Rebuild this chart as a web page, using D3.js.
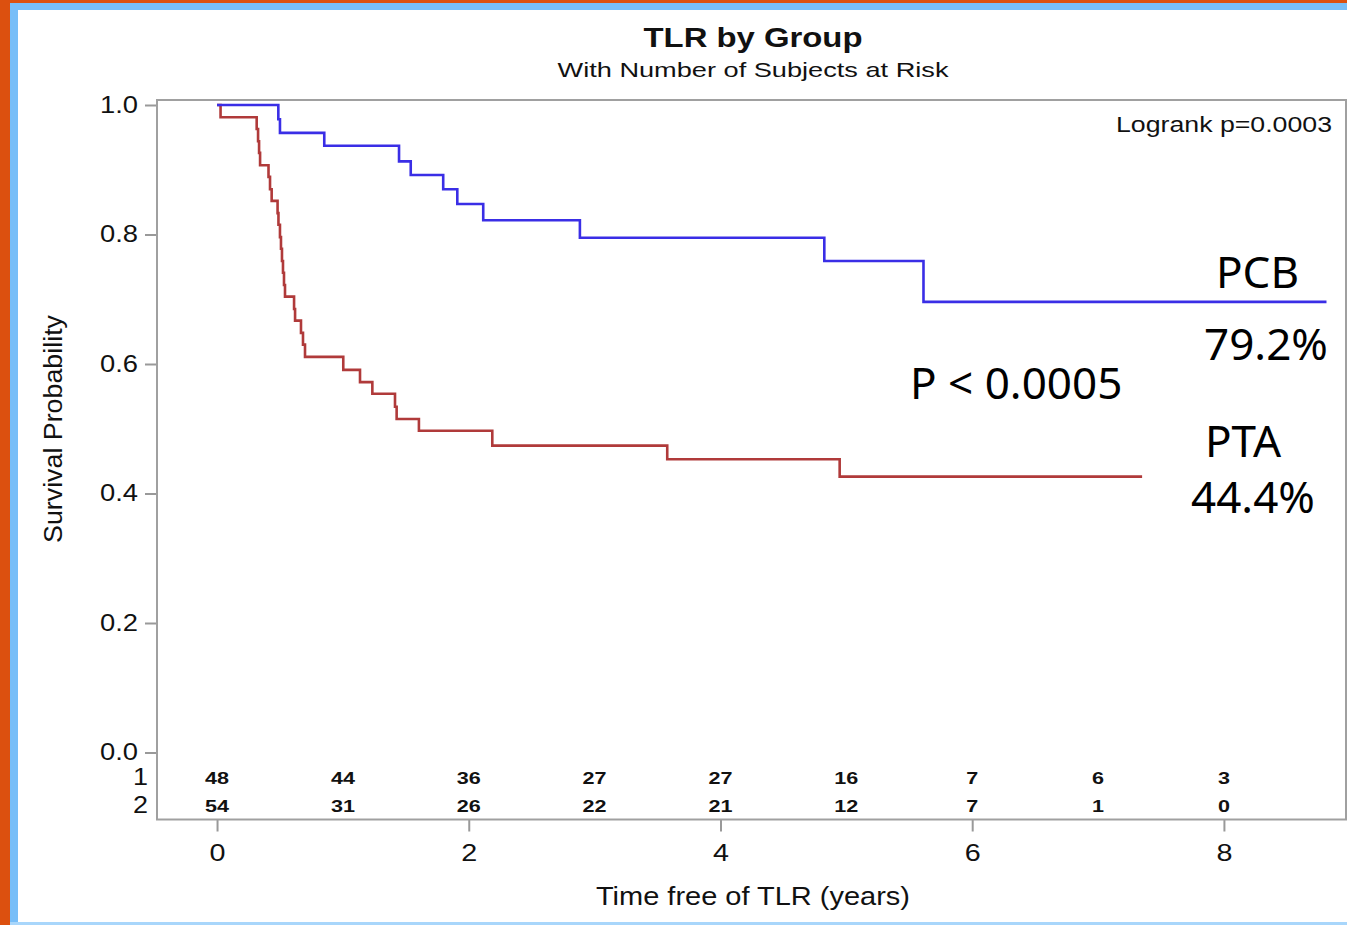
<!DOCTYPE html>
<html>
<head>
<meta charset="utf-8">
<script src="https://cdn.jsdelivr.net/npm/d3@7"></script>
<style>
  body { margin: 0; background: #fff; }
  svg { display: block; }
  .sas { font-family: "Liberation Sans", Arial, sans-serif; fill: #111; }
  .note { font-family: "Noto Sans", sans-serif; fill: #000; }
</style>
</head>
<body>
<svg id="chart" width="1347" height="925"></svg>
<script>
// Kaplan-Meier steps: [time (years), survival]
const pcbTimes = [0, 0.487, 0.50, 0.852, 1.446, 1.539, 1.797, 1.909, 2.115, 2.883, 4.825, 5.613, 8.815];
const pcbSurv  = [1.0, 0.978, 0.957, 0.937, 0.913, 0.892, 0.870, 0.847, 0.822, 0.795, 0.759, 0.696, 0.696];

const ptaTimes = [0, 0.028, 0.315, 0.326, 0.334, 0.342, 0.409, 0.421, 0.434, 0.481, 0.488, 0.50, 0.508,
  0.516, 0.524, 0.532, 0.540, 0.612, 0.620, 0.667, 0.683, 0.699, 1.003, 1.136, 1.234, 1.414, 1.427,
  1.604, 2.187, 3.577, 4.947, 7.35];
const ptaSurv  = [1.0, 0.981, 0.963, 0.944, 0.926, 0.907, 0.889, 0.870, 0.852, 0.833, 0.815, 0.796, 0.778,
  0.759, 0.741, 0.722, 0.704, 0.685, 0.667, 0.648, 0.630, 0.611, 0.591, 0.572, 0.554, 0.534, 0.515,
  0.497, 0.474, 0.453, 0.426, 0.426];

// number at risk
const riskTimes = [0, 1, 2, 3, 4, 5, 6, 7, 8];
const riskGroup1 = [48, 44, 36, 27, 27, 16, 7, 6, 3];
const riskGroup2 = [54, 31, 26, 22, 21, 12, 7, 1, 0];

const xTicks = [0, 2, 4, 6, 8];
const yTicks = [0, 0.2, 0.4, 0.6, 0.8, 1.0];

const svg = d3.select('#chart');

// the slide picture is stretched sideways, so the SAS texts are widened to match
function stretch(sel, len) {
  sel.attr('textLength', len).attr('lengthAdjust', 'spacingAndGlyphs');
}

// slide frame
svg.append('rect').attr('x', 0).attr('y', 0).attr('width', 1347).attr('height', 3).attr('fill', '#dc500f');
svg.append('rect').attr('x', 10).attr('y', 3).attr('width', 1337).attr('height', 7).attr('fill', '#78bef8');
svg.append('rect').attr('x', 10).attr('y', 3).attr('width', 8).attr('height', 922).attr('fill', '#78bef8');
svg.append('rect').attr('x', 0).attr('y', 0).attr('width', 10).attr('height', 925).attr('fill', '#dc500f');
svg.append('rect').attr('x', 10).attr('y', 922).attr('width', 1337).attr('height', 3).attr('fill', '#a8d6fb');

const box = { left: 157, right: 1346, top: 100, bottom: 819.5 };

const x = d3.scaleLinear().domain([-0.477, 8.97]).range([box.left, box.right]);
const y = d3.scaleLinear().domain([0, 1]).range([752.5, 105]);

// titles
svg.append('text').attr('class', 'sas')
  .attr('x', 753).attr('y', 47).attr('text-anchor', 'middle')
  .style('font-size', '27px').style('font-weight', 'bold')
  .text('TLR by Group')
  .call(stretch, 219);
svg.append('text').attr('class', 'sas')
  .attr('x', 753).attr('y', 77).attr('text-anchor', 'middle')
  .style('font-size', '21px')
  .text('With Number of Subjects at Risk')
  .call(stretch, 391);

// axes
const yAxis = svg.append('g')
  .attr('transform', `translate(${box.left},0)`)
  .call(d3.axisLeft(y).tickValues(yTicks).tickFormat(d3.format('.1f')).tickSize(12).tickPadding(7));
const xAxis = svg.append('g')
  .attr('transform', `translate(0,${box.bottom})`)
  .call(d3.axisBottom(x).tickValues(xTicks).tickSize(12).tickPadding(12));

[yAxis, xAxis].forEach((g) => {
  g.select('.domain').remove();
  g.selectAll('.tick line').attr('stroke', '#999').attr('stroke-width', 2);
  g.selectAll('.tick text').attr('class', 'sas').attr('fill', '#111')
    .style('font-family', '"Liberation Sans", Arial, sans-serif');
});
yAxis.selectAll('.tick text').style('font-size', '23px').call(stretch, 38);
xAxis.selectAll('.tick text').style('font-size', '24px').call(stretch, 16);

// plot frame
svg.append('rect')
  .attr('x', box.left).attr('y', box.top)
  .attr('width', box.right - box.left).attr('height', box.bottom - box.top)
  .attr('fill', 'none').attr('stroke', '#a0a0a0').attr('stroke-width', 2);

// axis labels
svg.append('text').attr('class', 'sas')
  .attr('transform', 'translate(62,429) rotate(-90)')
  .attr('text-anchor', 'middle')
  .style('font-size', '26px')
  .text('Survival Probability')
  .call(stretch, 228);
svg.append('text').attr('class', 'sas')
  .attr('x', 753).attr('y', 905).attr('text-anchor', 'middle')
  .style('font-size', '25px')
  .text('Time free of TLR (years)')
  .call(stretch, 314);

// curves
const line = d3.line()
  .curve(d3.curveStepAfter)
  .x((d) => x(d[0]))
  .y((d) => y(d[1]));

svg.append('path')
  .datum(d3.zip(ptaTimes, ptaSurv))
  .attr('d', line)
  .attr('fill', 'none')
  .attr('stroke', '#b03a3a')
  .attr('stroke-width', 2.6);

svg.append('path')
  .datum(d3.zip(pcbTimes, pcbSurv))
  .attr('d', line)
  .attr('fill', 'none')
  .attr('stroke', '#3a2ee6')
  .attr('stroke-width', 2.6);

// number at risk table
[[riskGroup1, 784, '1'], [riskGroup2, 812, '2']].forEach(([vals, yy, lab]) => {
  svg.append('text').attr('class', 'sas')
    .attr('x', 148).attr('y', yy + 1).attr('text-anchor', 'end')
    .style('font-size', '24px')
    .text(lab)
    .call(stretch, 15);
  svg.selectAll(null)
    .data(vals)
    .enter()
    .append('text')
    .attr('class', 'sas')
    .attr('x', (d, i) => x(riskTimes[i]))
    .attr('y', yy)
    .attr('text-anchor', 'middle')
    .style('font-size', '17px')
    .style('font-weight', 'bold')
    .text((d) => d)
    .attr('textLength', (d) => String(d).length * 12)
    .attr('lengthAdjust', 'spacingAndGlyphs');
});

// logrank
svg.append('text').attr('class', 'sas')
  .attr('x', 1332).attr('y', 132).attr('text-anchor', 'end')
  .style('font-size', '22px')
  .text('Logrank p=0.0003')
  .call(stretch, 216);

// slide annotations
const notes = [
  ['PCB', 1216, 288],
  ['79.2%', 1204, 360],
  ['P < 0.0005', 910, 399],
  ['PTA', 1205, 457],
  ['44.4%', 1191, 513]
];
svg.selectAll('.note')
  .data(notes)
  .enter()
  .append('text')
  .attr('class', 'note')
  .attr('x', (d) => d[1])
  .attr('y', (d) => d[2])
  .style('font-size', '44px')
  .text((d) => d[0]);
</script>
</body>
</html>
